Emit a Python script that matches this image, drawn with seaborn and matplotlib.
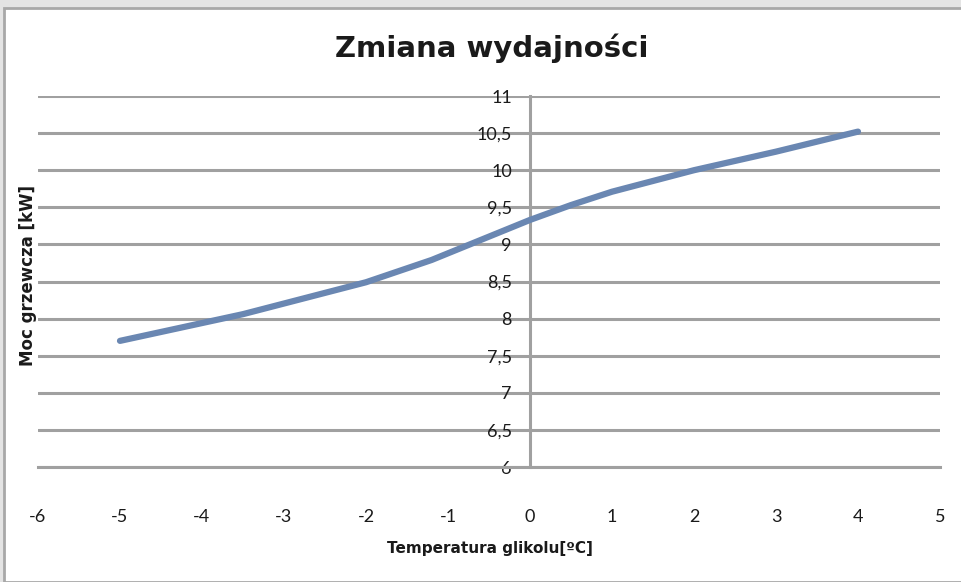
import pandas as pd
import matplotlib.pyplot as plt
import seaborn as sns
from matplotlib.patches import Rectangle
from matplotlib.ticker import FuncFormatter, MultipleLocator

# dane
temperatura = [-5, -3.5, -2, -1.2, 0, 0.5, 1, 2, 3, 4]
moc = [7.70, 8.06, 8.49, 8.79, 9.33, 9.53, 9.71, 10.0, 10.25, 10.52]

df = pd.DataFrame({'Temperatura': temperatura, 'Moc': moc})

sns.set_style('white')
plt.rcParams['font.family'] = ['Lato', 'DejaVu Sans']

fig = plt.figure(figsize=(9.62, 5.82), dpi=100, facecolor='#e4e4e4')

# białe tło wykresu z ramką
fig.patches.append(Rectangle((4 / 962, 0), 1.0, 1 - 8 / 582, transform=fig.transFigure,
                             facecolor='white', edgecolor='#a8a8a8', linewidth=2, zorder=-5))

ax = fig.add_axes([38 / 962, 1 - 467 / 582, (940 - 38) / 962, (467 - 96) / 582])
ax.set_facecolor('none')
ax.set_zorder(2)

sns.lineplot(data=df, x='Temperatura', y='Moc', color='#6a87b2', linewidth=4.5,
             ax=ax, solid_capstyle='round', zorder=3)

ax.set_xlim(-6, 5)
ax.set_ylim(6, 11)
ax.xaxis.set_major_locator(MultipleLocator(1))
ax.yaxis.set_major_locator(MultipleLocator(0.5))

fmt = FuncFormatter(lambda v, p: ('%g' % v).replace('.', ','))
ax.yaxis.set_major_formatter(fmt)
ax.xaxis.set_major_formatter(FuncFormatter(lambda v, p: '%d' % v))

ax.grid(axis='y', color='#a0a0a0', linewidth=2.2)
ax.set_axisbelow(True)

for s in ['top', 'right']:
    ax.spines[s].set_visible(False)
# dolna linia siatki (6) jako oś pozioma
ax.spines['bottom'].set_color('#a0a0a0')
ax.spines['bottom'].set_linewidth(2.2)
ax.spines['left'].set_position(('data', 0))
ax.spines['left'].set_color('#a0a0a0')
ax.spines['left'].set_linewidth(2.2)

ax.tick_params(axis='y', length=0, pad=13, labelsize=13, colors='#1a1a1a')
ax.tick_params(axis='x', length=0, pad=30, labelsize=13, colors='#1a1a1a')

ax.set_xlabel('')
ax.set_ylabel('')

bold = ['DejaVu Sans']
fig.text(492 / 962, 1 - 48 / 582, 'Zmiana wydajności', ha='center', va='center',
         fontsize=21, fontweight='bold', color='#1a1a1a', family=bold, zorder=3)
fig.text(490 / 962, 1 - 549 / 582, 'Temperatura glikolu[ºC]', ha='center', va='center',
         fontsize=11, fontweight='bold', color='#1a1a1a', family=bold, zorder=3)
fig.text(28 / 962, 1 - 276 / 582, 'Moc grzewcza [kW]', ha='center', va='center',
         rotation=90, fontsize=12, fontweight='bold', color='#1a1a1a', family=bold, zorder=3)

fig.savefig('out.png', dpi=100, facecolor=fig.get_facecolor())
